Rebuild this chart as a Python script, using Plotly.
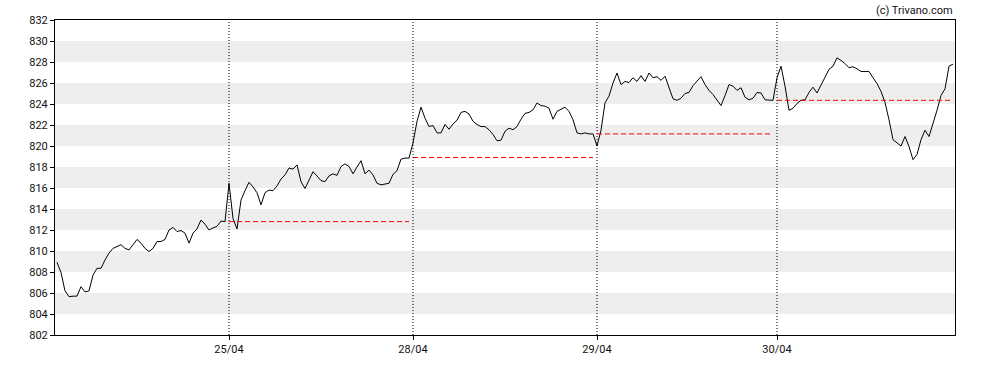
import plotly.graph_objects as go

# ---- data ----
day_labels = ["24/04", "25/04", "28/04", "29/04", "30/04"]

day1 = [808.93, 807.95, 806.2, 805.65, 805.7, 805.7, 806.6, 806.1, 806.2, 807.7,
        808.35, 808.35, 809.15, 809.8, 810.25, 810.4, 810.6, 810.25, 810.1, 810.6,
        811.1, 810.75, 810.25, 809.95, 810.25, 810.9, 810.9, 811.1, 812.0, 812.25,
        811.85, 811.95, 811.7, 810.75, 811.7, 812.1, 812.95, 812.55, 812.0, 812.2,
        812.35, 812.85, 812.8]

day2 = [816.45, 813.1, 812.1, 814.85, 815.75, 816.55, 816.1, 815.55, 814.4, 815.55,
        815.8, 815.75, 816.2, 816.85, 817.25, 817.9, 817.8, 818.2, 816.6, 815.95,
        816.75, 817.55, 817.15, 816.7, 816.6, 817.15, 817.35, 817.2, 818.05, 818.3,
        818.05, 817.35, 818.0, 818.6, 817.35, 817.7, 817.25, 816.45, 816.3, 816.35,
        816.45, 817.3, 817.65, 818.75, 818.85, 818.85]

day3 = [820.28, 822.35, 823.7, 822.65, 821.85, 821.95, 821.25, 821.25, 822.05, 821.6,
        822.1, 822.45, 823.2, 823.3, 823.05, 822.35, 822.05, 821.85, 821.85, 821.55,
        821.1, 820.5, 820.55, 821.4, 821.7, 821.55, 821.85, 822.55, 823.1, 823.2,
        823.45, 824.1, 823.85, 823.8, 823.6, 822.55, 823.3, 823.5, 823.7, 823.3,
        822.5, 821.25, 821.15, 821.25, 821.15, 821.15]

day4 = [820.0, 821.5, 824.1, 824.75, 826.0, 826.95, 825.85, 826.15, 826.05, 826.5,
        826.15, 826.7, 826.15, 826.95, 826.5, 826.6, 826.25, 826.65, 825.6, 824.5,
        824.35, 824.55, 825.0, 825.1, 825.75, 826.15, 826.6, 825.85, 825.3, 824.9,
        824.4, 823.85, 824.8, 825.85, 825.7, 825.3, 825.55, 824.65, 824.4, 824.55,
        825.1, 825.05, 824.4, 824.4, 824.35]

day5 = [826.5, 827.6, 825.7, 823.4, 823.6, 824.05, 824.35, 824.4, 825.1, 825.6,
        825.05, 825.85, 826.5, 827.3, 827.6, 828.4, 828.15, 827.85, 827.45, 827.55,
        827.35, 827.1, 827.1, 827.1, 826.5, 825.95, 825.2, 824.15, 822.5, 820.6,
        820.3, 820.0, 820.9, 819.95, 818.7, 819.2, 820.6, 821.5, 820.9, 822.05,
        823.4, 824.8, 825.45, 827.6, 827.8]

days = [day1, day2, day3, day4, day5]
prev_close = [None, 812.8, 818.9, 821.15, 824.35]

y_ticks = list(range(802, 834, 2))
gray_band_starts = [804, 808, 812, 816, 820, 824, 828]

# ---- build ----
x_all, y_all, day_start, day_end = [], [], [], []
idx = 0
for d in days:
    day_start.append(idx)
    for v in d:
        x_all.append(idx)
        y_all.append(v)
        idx += 1
    day_end.append(idx - 1)

fig = go.Figure()

fig.add_trace(go.Scatter(x=x_all, y=y_all, mode="lines",
                         line=dict(color="#000000", width=1), hoverinfo="skip",
                         showlegend=False))

for k in range(1, len(days)):
    pc = prev_close[k]
    fig.add_trace(go.Scatter(x=[day_start[k], day_end[k]], y=[pc, pc], mode="lines",
                             line=dict(color="#FF0000", width=1, dash="5px,3px"),
                             showlegend=False, hoverinfo="skip"))

shapes = []
for b in gray_band_starts:
    shapes.append(dict(type="rect", xref="paper", yref="y", x0=0, x1=1, y0=b, y1=b + 2,
                       fillcolor="#EEEEEE", line=dict(width=0), layer="below"))
for k in range(1, len(days)):
    shapes.append(dict(type="line", xref="x", yref="paper", x0=day_start[k], x1=day_start[k],
                       y0=0, y1=1, line=dict(color="#000000", width=1, dash="1px,2px"),
                       layer="above"))

fig.update_layout(
    width=988, height=370,
    margin=dict(l=55, r=33, t=20, b=35),
    paper_bgcolor="white", plot_bgcolor="white",
    font=dict(family="Roboto, Arial, sans-serif", size=11, color="#111111"),
    shapes=shapes,
    showlegend=False,
    xaxis=dict(range=[-0.5, idx - 0.5], tickmode="array",
               tickvals=day_start[1:], ticktext=day_labels[1:],
               showgrid=False, zeroline=False, showline=True, linecolor="#000000",
               linewidth=1, mirror=True, ticks="outside", ticklen=4, tickcolor="#000000",
               tickfont=dict(size=11), automargin=False),
    yaxis=dict(range=[802, 832], tickmode="array", tickvals=y_ticks,
               ticktext=[str(t) for t in y_ticks],
               showgrid=False, zeroline=False, showline=True, linecolor="#000000",
               linewidth=1, mirror=True, ticks="outside", ticklen=4, tickcolor="#000000",
               tickfont=dict(size=11), automargin=False),
    annotations=[dict(text="(c) Trivano.com", xref="paper", yref="paper", x=1, y=1,
                      xanchor="right", yanchor="bottom", yshift=1, showarrow=False,
                      font=dict(size=11, color="#111111"))],
)

fig.write_html("out.html", config={"displayModeBar": False},
               post_script="document.body.style.margin='0';")
